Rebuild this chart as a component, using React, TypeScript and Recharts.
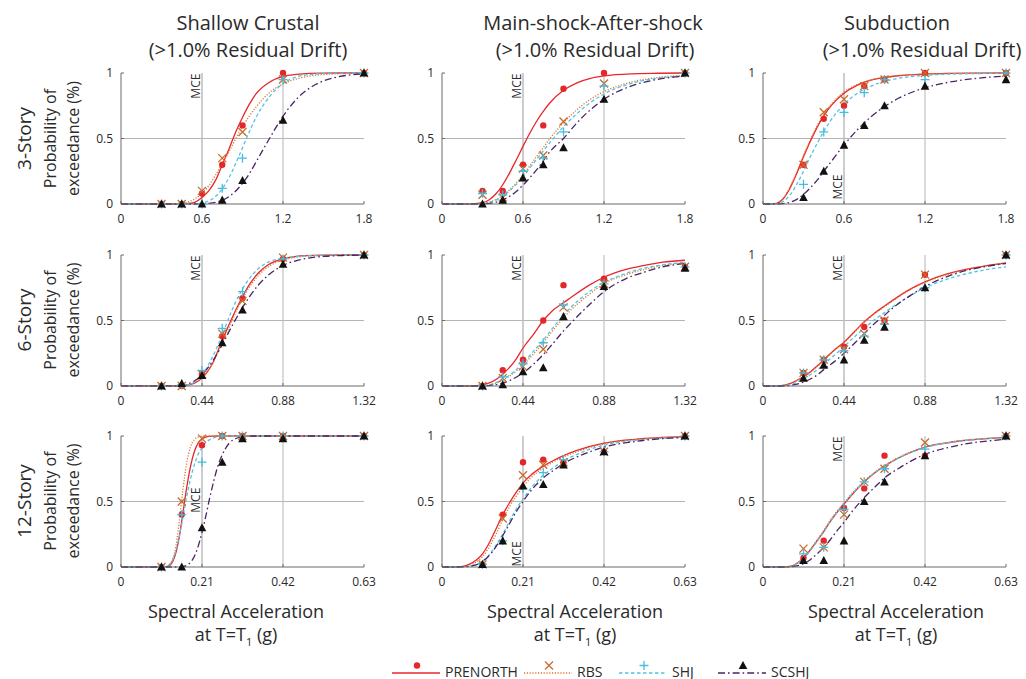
import React from 'react';
import { ComposedChart, Line, Scatter, XAxis, YAxis, ReferenceLine } from 'recharts';

const FONT = '"Open Sans", "Noto Sans", sans-serif';
const TEXT = '#2a2a2a';

// ---------- tick labels ----------
const row1Ticks = [0, 0.6, 1.2, 1.8];
const row2Ticks = [0, 0.44, 0.88, 1.32];
const row3Ticks = [0, 0.21, 0.42, 0.63];
const yTicks = [0, 0.5, 1];

// ---------- titles / labels ----------
const colTitles = ['Shallow Crustal', 'Main-shock-After-shock', 'Subduction'];
const colSubtitle = '(>1.0% Residual Drift)';
const rowTitles = ['3-Story', '6-Story', '12-Story'];
const seriesNames = ['PRENORTH', 'RBS', 'SHJ', 'SCSHJ'];

// ---------- intensity levels of the analyses (markers) ----------
const im3 = [0.3, 0.45, 0.6, 0.75, 0.9, 1.2, 1.8];
const im6 = [0.22, 0.33, 0.44, 0.55, 0.66, 0.88, 1.32];
const im12 = [0.105, 0.1575, 0.21, 0.2625, 0.315, 0.42, 0.63];

// ---------- Shallow crustal, 3-story ----------
const sc3X = [0, 0.4, 0.45, 0.5, 0.55, 0.6, 0.65, 0.7, 0.75, 0.8, 0.85, 0.9, 0.95, 1.0, 1.1, 1.2, 1.3, 1.4, 1.5, 1.6, 1.8];
const sc3Pre = [0, 0, 0.001, 0.004, 0.015, 0.05, 0.1, 0.18, 0.3, 0.42, 0.55, 0.66, 0.76, 0.84, 0.93, 0.974, 0.99, 0.997, 0.999, 1, 1];
const sc3Rbs = [0, 0.001, 0.005, 0.017, 0.041, 0.082, 0.14, 0.22, 0.31, 0.4, 0.5, 0.59, 0.67, 0.74, 0.85, 0.916, 0.955, 0.977, 0.988, 0.994, 0.998];
const sc3Shj = [0, 0, 0, 0, 0.002, 0.0075, 0.023, 0.057, 0.117, 0.2, 0.31, 0.43, 0.55, 0.66, 0.82, 0.92, 0.97, 0.988, 0.996, 0.999, 1];
const sc3Scs = [0, 0, 0, 0, 0, 0.001, 0.004, 0.012, 0.028, 0.056, 0.099, 0.158, 0.23, 0.32, 0.5, 0.67, 0.8, 0.887, 0.94, 0.969, 0.993];
const sc3PreObs = [0, 0, 0.08, 0.3, 0.6, 1, 1];
const sc3RbsObs = [0, 0, 0.1, 0.35, 0.55, 0.95, 1];
const sc3ShjObs = [0, 0, 0, 0.12, 0.35, 0.95, 1];
const sc3ScsObs = [0, 0, 0, 0.03, 0.18, 0.64, 1];

// ---------- Main-shock-after-shock, 3-story ----------
const ms3X = [0, 0.2, 0.3, 0.35, 0.4, 0.45, 0.5, 0.55, 0.6, 0.65, 0.7, 0.75, 0.8, 0.9, 1.0, 1.1, 1.2, 1.4, 1.6, 1.8];
const ms3Pre = [0, 0, 0.01, 0.033, 0.078, 0.147, 0.236, 0.336, 0.44, 0.54, 0.63, 0.707, 0.773, 0.868, 0.925, 0.959, 0.978, 0.994, 0.998, 1];
const ms3Rbs = [0, 0, 0.005, 0.015, 0.034, 0.065, 0.108, 0.16, 0.224, 0.29, 0.363, 0.43, 0.5, 0.62, 0.72, 0.8, 0.857, 0.93, 0.966, 0.983];
const ms3Shj = [0, 0, 0.004, 0.012, 0.03, 0.058, 0.1, 0.15, 0.21, 0.275, 0.34, 0.405, 0.47, 0.59, 0.69, 0.775, 0.84, 0.92, 0.96, 0.98];
const ms3Scs = [0, 0, 0.001, 0.005, 0.014, 0.031, 0.058, 0.096, 0.144, 0.2, 0.26, 0.33, 0.4, 0.5, 0.62, 0.72, 0.8, 0.9, 0.952, 0.977];
const ms3PreObs = [0.1, 0.1, 0.3, 0.6, 0.88, 1, 1];
const ms3RbsObs = [0.07, 0.05, 0.27, 0.37, 0.63, 0.92, 1];
const ms3ShjObs = [0.08, 0.07, 0.25, 0.35, 0.55, 0.9, 1];
const ms3ScsObs = [0, 0.03, 0.2, 0.3, 0.43, 0.8, 1];

// ---------- Subduction, 3-story ----------
const sd3X = [0, 0.05, 0.1, 0.15, 0.2, 0.25, 0.3, 0.35, 0.4, 0.45, 0.5, 0.6, 0.7, 0.8, 0.9, 1.0, 1.2, 1.4, 1.6, 1.8];
const sd3Pre = [0, 0, 0.005, 0.04, 0.12, 0.233, 0.36, 0.478, 0.583, 0.672, 0.745, 0.846, 0.908, 0.945, 0.966, 0.979, 0.992, 0.997, 0.999, 1];
const sd3Rbs = [0, 0, 0.006, 0.045, 0.13, 0.245, 0.37, 0.49, 0.595, 0.685, 0.755, 0.855, 0.913, 0.948, 0.968, 0.98, 0.993, 0.997, 0.999, 1];
const sd3Shj = [0, 0, 0.001, 0.02, 0.069, 0.15, 0.25, 0.36, 0.46, 0.555, 0.636, 0.76, 0.846, 0.9, 0.936, 0.959, 0.982, 0.992, 0.996, 0.998];
const sd3Scs = [0, 0, 0, 0.003, 0.013, 0.035, 0.073, 0.123, 0.18, 0.25, 0.317, 0.45, 0.568, 0.666, 0.744, 0.805, 0.887, 0.934, 0.961, 0.977];
const sd3PreObs = [0.3, 0.65, 0.75, 0.9, 0.95, 1, 1];
const sd3RbsObs = [0.3, 0.7, 0.8, 0.9, 0.95, 1, 1];
const sd3ShjObs = [0.15, 0.55, 0.7, 0.85, 0.95, 0.95, 1];
const sd3ScsObs = [0.05, 0.25, 0.45, 0.6, 0.75, 0.9, 0.95];

// ---------- Shallow crustal, 6-story ----------
const sc6X = [0, 0.3, 0.35, 0.4, 0.44, 0.5, 0.55, 0.6, 0.65, 0.7, 0.75, 0.8, 0.88, 0.95, 1.0, 1.1, 1.2, 1.32];
const sc6Pre = [0, 0, 0.004, 0.021, 0.06, 0.18, 0.35, 0.51, 0.655, 0.78, 0.868, 0.925, 0.972, 0.989, 0.995, 0.999, 1, 1];
const sc6Rbs = [0, 0.001, 0.006, 0.025, 0.065, 0.18, 0.33, 0.49, 0.64, 0.76, 0.85, 0.91, 0.962, 0.983, 0.991, 0.997, 0.999, 1];
const sc6Shj = [0, 0.001, 0.006, 0.031, 0.084, 0.23, 0.39, 0.57, 0.716, 0.826, 0.9, 0.946, 0.975, 0.988, 0.993, 0.997, 0.999, 1];
const sc6Scs = [0, 0.002, 0.011, 0.04, 0.085, 0.195, 0.316, 0.45, 0.575, 0.686, 0.777, 0.846, 0.92, 0.956, 0.972, 0.989, 0.996, 0.999];
const sc6PreObs = [0, 0, 0.09, 0.38, 0.67, 0.97, 1];
const sc6RbsObs = [0, 0, 0.09, 0.4, 0.65, 0.98, 1];
const sc6ShjObs = [0, 0.01, 0.12, 0.44, 0.72, 0.97, 1];
const sc6ScsObs = [0, 0.02, 0.08, 0.33, 0.58, 0.93, 1];

// ---------- Main-shock-after-shock, 6-story ----------
const ms6X = [0, 0.15, 0.2, 0.25, 0.3, 0.33, 0.4, 0.44, 0.5, 0.55, 0.6, 0.66, 0.7, 0.8, 0.88, 1.0, 1.1, 1.2, 1.32];
const ms6Pre = [0, 0, 0.005, 0.02, 0.055, 0.09, 0.2, 0.29, 0.4, 0.5, 0.575, 0.635, 0.675, 0.77, 0.83, 0.89, 0.92, 0.945, 0.96];
const ms6Rbs = [0, 0, 0, 0.005, 0.025, 0.045, 0.11, 0.16, 0.25, 0.33, 0.42, 0.52, 0.58, 0.7, 0.78, 0.85, 0.89, 0.92, 0.94];
const ms6Shj = [0, 0, 0, 0.006, 0.03, 0.05, 0.12, 0.175, 0.27, 0.35, 0.44, 0.54, 0.6, 0.72, 0.79, 0.86, 0.9, 0.925, 0.945];
const ms6Scs = [0, 0, 0, 0.003, 0.012, 0.022, 0.065, 0.1, 0.17, 0.24, 0.32, 0.42, 0.48, 0.62, 0.72, 0.82, 0.87, 0.91, 0.935];
const ms6PreObs = [0, 0.12, 0.2, 0.5, 0.77, 0.82, 0.91];
const ms6RbsObs = [0, 0.06, 0.15, 0.28, 0.6, 0.78, 0.91];
const ms6ShjObs = [0, 0.07, 0.17, 0.33, 0.62, 0.78, 0.91];
const ms6ScsObs = [0, 0.01, 0.11, 0.14, 0.53, 0.76, 0.9];

// ---------- Subduction, 6-story ----------
const sd6X = [0, 0.05, 0.1, 0.15, 0.2, 0.22, 0.3, 0.33, 0.4, 0.44, 0.5, 0.55, 0.6, 0.66, 0.7, 0.8, 0.88, 1.0, 1.1, 1.2, 1.32];
const sd6Pre = [0, 0, 0.003, 0.02, 0.055, 0.07, 0.16, 0.2, 0.29, 0.335, 0.42, 0.49, 0.55, 0.61, 0.65, 0.74, 0.795, 0.855, 0.89, 0.915, 0.94];
const sd6Rbs = [0, 0, 0.003, 0.019, 0.053, 0.068, 0.155, 0.195, 0.285, 0.33, 0.415, 0.485, 0.545, 0.605, 0.645, 0.735, 0.79, 0.85, 0.885, 0.912, 0.938];
const sd6Shj = [0, 0, 0.002, 0.012, 0.04, 0.055, 0.13, 0.165, 0.25, 0.3, 0.38, 0.44, 0.5, 0.56, 0.6, 0.69, 0.75, 0.815, 0.855, 0.885, 0.91];
const sd6Scs = [0, 0, 0, 0.005, 0.02, 0.03, 0.09, 0.125, 0.2, 0.25, 0.33, 0.4, 0.47, 0.54, 0.59, 0.69, 0.76, 0.835, 0.88, 0.91, 0.935];
const sd6PreObs = [0.1, 0.2, 0.3, 0.45, 0.5, 0.85, 1];
const sd6RbsObs = [0.1, 0.2, 0.28, 0.4, 0.5, 0.85, 1];
const sd6ShjObs = [0.1, 0.2, 0.27, 0.38, 0.47, 0.75, 1];
const sd6ScsObs = [0.06, 0.16, 0.2, 0.35, 0.45, 0.75, 1];

// ---------- Shallow crustal, 12-story ----------
const sc12X = [0, 0.1, 0.11, 0.12, 0.13, 0.14, 0.15, 0.16, 0.17, 0.18, 0.19, 0.2, 0.21, 0.22, 0.23, 0.24, 0.25, 0.26, 0.28, 0.3, 0.32, 0.35, 0.42, 0.63];
const sc12Pre = [0, 0, 0, 0.004, 0.023, 0.085, 0.21, 0.4, 0.6, 0.765, 0.88, 0.945, 0.977, 0.992, 0.997, 0.999, 1, 1, 1, 1, 1, 1, 1, 1];
const sc12Rbs = [0, 0, 0, 0.004, 0.03, 0.125, 0.32, 0.575, 0.79, 0.915, 0.972, 0.992, 0.998, 1, 1, 1, 1, 1, 1, 1, 1, 1, 1, 1];
const sc12Shj = [0, 0, 0, 0.008, 0.035, 0.1, 0.22, 0.37, 0.53, 0.67, 0.78, 0.86, 0.91, 0.95, 0.972, 0.985, 0.993, 0.997, 1, 1, 1, 1, 1, 1];
const sc12Scs = [0, 0, 0, 0, 0, 0, 0.001, 0.003, 0.012, 0.035, 0.08, 0.157, 0.264, 0.39, 0.527, 0.65, 0.76, 0.84, 0.943, 0.983, 0.995, 1, 1, 1];
const sc12PreObs = [0, 0.4, 0.93, 1, 1, 1, 1];
const sc12RbsObs = [0, 0.5, 0.98, 1, 1, 1, 1];
const sc12ShjObs = [0, 0.4, 0.8, 1, 1, 1, 1];
const sc12ScsObs = [0, 0, 0.3, 0.8, 0.98, 0.98, 1];

// ---------- Main-shock-after-shock, 12-story ----------
const ms12X = [0, 0.03, 0.05, 0.07, 0.09, 0.105, 0.12, 0.14, 0.1575, 0.175, 0.19, 0.21, 0.23, 0.2625, 0.29, 0.315, 0.35, 0.42, 0.5, 0.63];
const ms12Pre = [0, 0, 0.003, 0.02, 0.055, 0.1, 0.17, 0.29, 0.4, 0.49, 0.56, 0.64, 0.7, 0.77, 0.815, 0.85, 0.89, 0.945, 0.975, 0.995];
const ms12Rbs = [0, 0, 0.002, 0.012, 0.04, 0.08, 0.14, 0.25, 0.36, 0.46, 0.53, 0.61, 0.68, 0.755, 0.805, 0.84, 0.88, 0.94, 0.972, 0.993];
const ms12Shj = [0, 0, 0.001, 0.006, 0.02, 0.045, 0.085, 0.165, 0.25, 0.35, 0.43, 0.52, 0.6, 0.7, 0.76, 0.81, 0.86, 0.93, 0.966, 0.99];
const ms12Scs = [0, 0, 0.001, 0.005, 0.018, 0.04, 0.08, 0.155, 0.24, 0.33, 0.41, 0.5, 0.58, 0.68, 0.74, 0.79, 0.84, 0.915, 0.958, 0.99];
const ms12PreObs = [0.02, 0.4, 0.8, 0.82, 0.8, 0.88, 1];
const ms12RbsObs = [0.02, 0.37, 0.7, 0.78, 0.8, 0.88, 1];
const ms12ShjObs = [0.02, 0.2, 0.6, 0.72, 0.82, 0.88, 1];
const ms12ScsObs = [0.02, 0.2, 0.62, 0.63, 0.78, 0.88, 1];

// ---------- Subduction, 12-story ----------
const sd12X = [0, 0.03, 0.05, 0.07, 0.09, 0.105, 0.12, 0.14, 0.1575, 0.175, 0.19, 0.21, 0.23, 0.2625, 0.29, 0.315, 0.35, 0.42, 0.5, 0.63];
const sd12Pre = [0, 0, 0, 0.005, 0.03, 0.07, 0.12, 0.2, 0.27, 0.35, 0.41, 0.48, 0.55, 0.65, 0.72, 0.77, 0.83, 0.915, 0.958, 0.99];
const sd12Rbs = [0, 0, 0, 0.006, 0.033, 0.075, 0.125, 0.205, 0.28, 0.36, 0.42, 0.49, 0.56, 0.655, 0.725, 0.775, 0.835, 0.917, 0.96, 0.99];
const sd12Shj = [0, 0, 0, 0.004, 0.028, 0.067, 0.115, 0.195, 0.27, 0.35, 0.41, 0.485, 0.555, 0.65, 0.72, 0.77, 0.83, 0.912, 0.956, 0.988];
const sd12Scs = [0, 0, 0, 0.002, 0.01, 0.025, 0.05, 0.1, 0.15, 0.21, 0.27, 0.34, 0.42, 0.53, 0.61, 0.68, 0.75, 0.86, 0.925, 0.975];
const sd12PreObs = [0.07, 0.2, 0.45, 0.6, 0.85, 0.85, 1];
const sd12RbsObs = [0.14, 0.15, 0.4, 0.65, 0.75, 0.95, 1];
const sd12ShjObs = [0.1, 0.15, 0.44, 0.65, 0.75, 0.9, 1];
const sd12ScsObs = [0.05, 0.05, 0.2, 0.5, 0.65, 0.85, 1];

// MCE intensity per row
const mceValues = [0.6, 0.44, 0.21];

// ---------- helpers ----------
type Pt = { x: number; y: number };
const pts = (xs: number[], ys: number[]): Pt[] => xs.map((x, i) => ({ x, y: ys[i] }));

const panels = [
  { row: 0, col: 0, ticks: row1Ticks, mceAt: 0.9, cx: sc3X, curves: [sc3Pre, sc3Rbs, sc3Shj, sc3Scs], im: im3, obs: [sc3PreObs, sc3RbsObs, sc3ShjObs, sc3ScsObs] },
  { row: 0, col: 1, ticks: row1Ticks, mceAt: 0.9, cx: ms3X, curves: [ms3Pre, ms3Rbs, ms3Shj, ms3Scs], im: im3, obs: [ms3PreObs, ms3RbsObs, ms3ShjObs, ms3ScsObs] },
  { row: 0, col: 2, ticks: row1Ticks, mceAt: 0.13, cx: sd3X, curves: [sd3Pre, sd3Rbs, sd3Shj, sd3Scs], im: im3, obs: [sd3PreObs, sd3RbsObs, sd3ShjObs, sd3ScsObs] },
  { row: 1, col: 0, ticks: row2Ticks, mceAt: 0.9, cx: sc6X, curves: [sc6Pre, sc6Rbs, sc6Shj, sc6Scs], im: im6, obs: [sc6PreObs, sc6RbsObs, sc6ShjObs, sc6ScsObs] },
  { row: 1, col: 1, ticks: row2Ticks, mceAt: 0.9, cx: ms6X, curves: [ms6Pre, ms6Rbs, ms6Shj, ms6Scs], im: im6, obs: [ms6PreObs, ms6RbsObs, ms6ShjObs, ms6ScsObs] },
  { row: 1, col: 2, ticks: row2Ticks, mceAt: 0.9, cx: sd6X, curves: [sd6Pre, sd6Rbs, sd6Shj, sd6Scs], im: im6, obs: [sd6PreObs, sd6RbsObs, sd6ShjObs, sd6ScsObs] },
  { row: 2, col: 0, ticks: row3Ticks, mceAt: 0.51, cx: sc12X, curves: [sc12Pre, sc12Rbs, sc12Shj, sc12Scs], im: im12, obs: [sc12PreObs, sc12RbsObs, sc12ShjObs, sc12ScsObs] },
  { row: 2, col: 1, ticks: row3Ticks, mceAt: 0.1, cx: ms12X, curves: [ms12Pre, ms12Rbs, ms12Shj, ms12Scs], im: im12, obs: [ms12PreObs, ms12RbsObs, ms12ShjObs, ms12ScsObs] },
  { row: 2, col: 2, ticks: row3Ticks, mceAt: 0.9, cx: sd12X, curves: [sd12Pre, sd12Rbs, sd12Shj, sd12Scs], im: im12, obs: [sd12PreObs, sd12RbsObs, sd12ShjObs, sd12ScsObs] },
];

const LINE_STYLES = [
  { color: '#e8262b', dash: undefined as string | undefined },
  { color: '#d9792f', dash: '1.2 1.6' },
  { color: '#52c4e4', dash: '3.5 2.5' },
  { color: '#4a2466', dash: '7 3 1.6 3' },
];

const MARK = { dot: '#e4272a', cross: '#c96a2b', plus: '#45bde0', tri: '#111111' };

const DotShape = (p: any) => <circle cx={p.cx} cy={p.cy} r={3.2} fill={MARK.dot} />;
const CrossShape = (p: any) => (
  <path d={`M${p.cx - 4},${p.cy - 4}L${p.cx + 4},${p.cy + 4}M${p.cx - 4},${p.cy + 4}L${p.cx + 4},${p.cy - 4}`} stroke={MARK.cross} strokeWidth={1.3} fill="none" />
);
const PlusShape = (p: any) => (
  <path d={`M${p.cx - 4.5},${p.cy}L${p.cx + 4.5},${p.cy}M${p.cx},${p.cy - 4.5}L${p.cx},${p.cy + 4.5}`} stroke={MARK.plus} strokeWidth={1.3} fill="none" />
);
const TriShape = (p: any) => (
  <polygon points={`${p.cx},${p.cy - 4.5} ${p.cx - 4.3},${p.cy + 3.6} ${p.cx + 4.3},${p.cy + 3.6}`} fill={MARK.tri} />
);
const SHAPES = [DotShape, CrossShape, PlusShape, TriShape];

const MceLabel = (props: any) => {
  const vb = props.viewBox || {};
  const x = (vb.x ?? 0) - 1.8;
  const cy = (vb.y ?? 0) + (vb.height ?? 0) * (1 - props.frac);
  return (
    <text x={x} y={cy} transform={`rotate(-90 ${x} ${cy})`} textAnchor="middle" fontSize={12} fill={TEXT} fontFamily={FONT}>
      MCE
    </text>
  );
};

const COL_LEFT = [121, 442, 763];
const ROW_TOP = [73, 255, 436];
const PW = 243;
const PH = 131;

const Panel = ({ p }: { p: (typeof panels)[number] }) => {
  const max = p.ticks[p.ticks.length - 1];
  const tickStyle = { fontSize: 12, fill: TEXT, fontFamily: FONT };
  return (
    <div style={{ position: 'absolute', left: COL_LEFT[p.col] - 40, top: ROW_TOP[p.row] - 10 }}>
      <ComposedChart width={40 + PW + 12} height={10 + PH + 30} margin={{ top: 10, right: 12, bottom: 0, left: 0 }}>
        <XAxis
          type="number"
          dataKey="x"
          domain={[0, max]}
          ticks={p.ticks}
          interval={0}
          height={30}
          tickSize={-3}
          tickMargin={13}
          tick={tickStyle}
          axisLine={{ stroke: '#6a6a6a' }}
          tickLine={{ stroke: '#6a6a6a' }}
        />
        <YAxis
          type="number"
          dataKey="y"
          domain={[0, 1]}
          ticks={yTicks}
          interval={0}
          width={40}
          tickSize={-3}
          tickMargin={11}
          tick={tickStyle}
          axisLine={{ stroke: '#6a6a6a' }}
          tickLine={{ stroke: '#6a6a6a' }}
        />
        <ReferenceLine y={0.5} stroke="#b4b4b4" strokeWidth={1} />
        <ReferenceLine x={p.ticks[2]} stroke="#c2c2c2" strokeWidth={1.2} />
        <ReferenceLine x={mceValues[p.row]} stroke="#bdbdbd" strokeWidth={1.5} label={<MceLabel frac={p.mceAt} />} />
        {p.curves.map((ys, i) => (
          <Line
            key={`c${i}`}
            data={pts(p.cx, ys)}
            dataKey="y"
            type="monotone"
            stroke={LINE_STYLES[i].color}
            strokeWidth={1.3}
            strokeDasharray={LINE_STYLES[i].dash}
            dot={false}
            activeDot={false}
            isAnimationActive={false}
          />
        ))}
        {p.obs.map((ys, i) => (
          <Scatter key={`s${i}`} data={pts(p.im, ys)} dataKey="y" shape={SHAPES[i]} isAnimationActive={false} />
        ))}
      </ComposedChart>
    </div>
  );
};

const colTitleX = [248, 593, 897];
const colSubX = [248, 595, 922];
const xLabelX = [236, 575, 896];
const rowCenterY = [138.5, 320, 501];
const legendX = [392, 524, 619, 718];

const Overlay = () => (
  <svg width={1026} height={679} style={{ position: 'absolute', left: 0, top: 0 }} fontFamily={FONT}>
    {colTitles.map((t, i) => (
      <g key={`t${i}`}>
        <text x={colTitleX[i]} y={30} textAnchor="middle" fontSize={20} fill={TEXT}>{t}</text>
        <text x={colSubX[i]} y={57} textAnchor="middle" fontSize={20} fill={TEXT}>{colSubtitle}</text>
      </g>
    ))}
    {rowTitles.map((t, i) => (
      <g key={`r${i}`}>
        <text x={31} y={rowCenterY[i]} transform={`rotate(-90 31 ${rowCenterY[i]})`} textAnchor="middle" fontSize={19} fill={TEXT}>{t}</text>
        <text x={56} y={rowCenterY[i]} transform={`rotate(-90 56 ${rowCenterY[i]})`} textAnchor="middle" fontSize={16} fill={TEXT}>Probability of</text>
        <text x={79} y={rowCenterY[i]} transform={`rotate(-90 79 ${rowCenterY[i]})`} textAnchor="middle" fontSize={16} fill={TEXT}>exceedance (%)</text>
      </g>
    ))}
    {xLabelX.map((x, i) => (
      <g key={`x${i}`}>
        <text x={x} y={618} textAnchor="middle" fontSize={18} fill={TEXT}>Spectral Acceleration</text>
        <text x={x} y={641} textAnchor="middle" fontSize={18} fill={TEXT}>
          at T=T<tspan fontSize={11} dy={5}>1</tspan>
          <tspan dy={-5}> (g)</tspan>
        </text>
      </g>
    ))}
    {seriesNames.map((name, i) => {
      const x0 = legendX[i];
      const xm = x0 + 25;
      const s = LINE_STYLES[i];
      return (
        <g key={`l${i}`}>
          <line x1={x0} y1={673} x2={x0 + 48} y2={673} stroke={s.color} strokeWidth={1.3} strokeDasharray={s.dash} />
          {SHAPES[i]({ cx: xm, cy: 665.5 })}
          <text x={x0 + 53} y={676.5} fontSize={14} fill={TEXT}>{name}</text>
        </g>
      );
    })}
  </svg>
);

export default function App() {
  return (
    <div style={{ position: 'absolute', left: 0, top: 0, width: 1026, height: 679, background: '#fff', fontFamily: FONT }}>
      <Overlay />
      {panels.map((p, i) => (
        <Panel key={i} p={p} />
      ))}
    </div>
  );
}
